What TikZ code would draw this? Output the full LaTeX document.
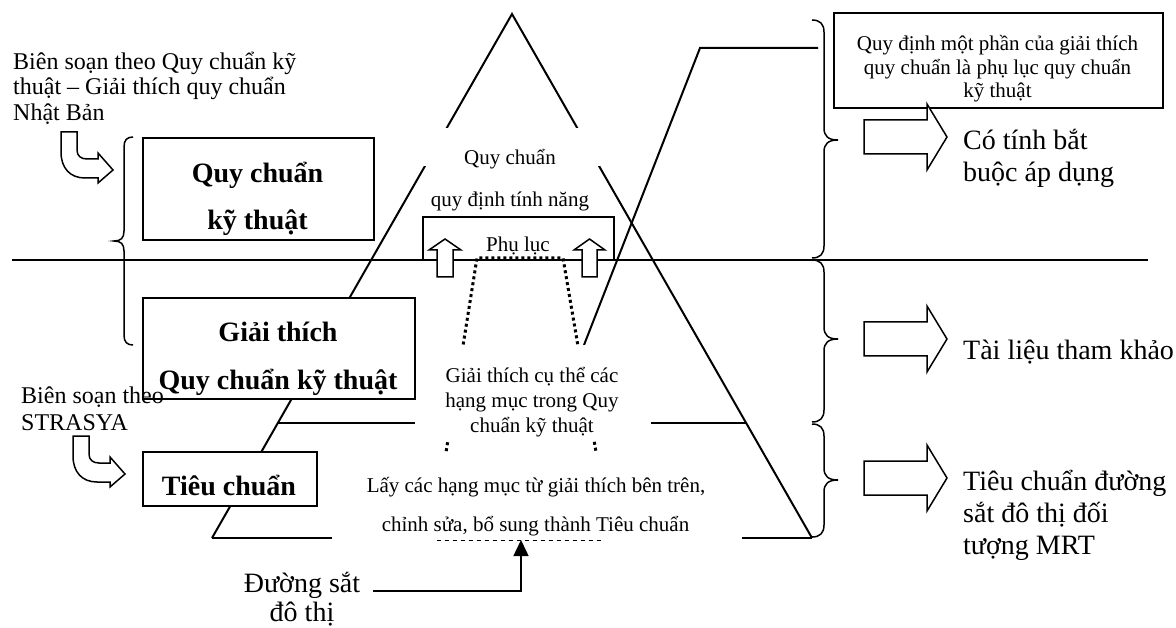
\documentclass[tikz,border=0pt]{standalone}
\usepackage{fontspec}
\setmainfont{Liberation Serif}
\usetikzlibrary{arrows.meta}
% right-pointing curly bracket: #1 top, #2 tip, #3 bottom (y values)
\newcommand{\rightcurl}[3]{%
  \draw[bracepath] (812,#1) .. controls (820,#1) and (824,#1+4) .. (824,#1+12)
    -- (824,#2-12) .. controls (824,#2-4) and (828,#2) .. (838,#2)
    .. controls (828,#2) and (824,#2+4) .. (824,#2+12)
    -- (824,#3-12) .. controls (824,#3-4) and (820,#3) .. (812,#3);}
% outlined block arrow pointing right, centred on y=#1
\newcommand{\rightblock}[1]{%
  \draw[blockarr] (864,#1-17) -- (927,#1-17) -- (927,#1-33) -- (947,#1)
    -- (927,#1+33) -- (927,#1+17) -- (864,#1+17) -- cycle;}
\begin{document}
\begin{tikzpicture}[x=1pt,y=-1pt,
  heavy/.style={line width=2pt},
  medium/.style={line width=1.5pt},
  bracepath/.style={line width=1.5pt},
  ttxt/.style={inner sep=0pt,anchor=base,font=\fontsize{21}{24}\selectfont},
  tlbl/.style={inner sep=0pt,anchor=base west,font=\fontsize{24}{26}\selectfont},
  tbig/.style={inner sep=0pt,anchor=base west,font=\fontsize{28}{32}\selectfont},
  tbigc/.style={inner sep=0pt,anchor=base,font=\fontsize{28}{32}\selectfont},
  tbold/.style={inner sep=0pt,anchor=base,font=\fontsize{28}{32}\selectfont\bfseries},
  framebox/.style={draw,line width=2pt,fill=white,inner sep=0pt,anchor=north west},
  dotline/.style={line width=3pt,dash pattern=on 3pt off 3pt},
  blockarr/.style={draw,line width=1.5pt,fill=white,line join=miter},
]
\useasboundingbox (0,0) rectangle (1176,628);

% --- pyramid and level lines ---
\coordinate (apex) at (512,14);
\coordinate (baseL) at (212,538);
\coordinate (baseR) at (812,538);
\coordinate (midL) at (278,423);
\coordinate (midR) at (746,423);
\coordinate (hL) at (12,260);
\coordinate (hR) at (1148,260);
\draw[heavy] (baseL) -- (apex) -- (baseR);
\draw[heavy] (hL) -- (hR);
\draw[heavy] (midL) -- (midR);
\draw[heavy] (baseL) -- (baseR);

% appendix wedge line
\coordinate (wA) at (818,48);
\coordinate (wB) at (700,48);
\coordinate (wC) at (584,345);
\draw[heavy] (wA) -- (wB) -- (wC);

% dotted trapezoid
\coordinate (dA) at (432,540);
\coordinate (dB) at (477,258);
\coordinate (dC) at (563,258);
\coordinate (dD) at (611,540);
\draw[dotline] (dA) -- (dB) -- (dC) -- (dD);

% white text areas
\fill[white] (420,128) rectangle (600,166);
\fill[white] (415,345) rectangle (651,440);
\fill[white] (332,453) rectangle (742,546);

% dashed base under the standard text
\coordinate (sL) at (437,540);
\coordinate (sR) at (603,540);
\draw[line width=1pt,dash pattern=on 4pt off 4pt] (sL) -- (sR);

% appendix box (open at the bottom)
\coordinate (pa1) at (423,260);
\coordinate (pa2) at (614,217);
\coordinate (pa3) at (614,260);
\draw[heavy] (pa1) |- (pa2) -- (pa3);

% upward block arrows
\draw[blockarr] (437,277) -- (437,250) -- (429,250) -- (445,239) -- (461,250)
  -- (453,250) -- (453,277) -- cycle;
\draw[blockarr] (582,277) -- (582,250) -- (574,250) -- (589.5,239) -- (605,250)
  -- (597,250) -- (597,277) -- cycle;

% --- left boxes ---
\node[framebox,minimum width=231pt,minimum height=102pt] (boxQC) at (142,137) {};
\node[framebox,minimum width=272pt,minimum height=101pt] (boxGT) at (142,297) {};
\node[framebox,minimum width=174pt,minimum height=54pt] (boxTC) at (142,451) {};
\node[tbold] (qc1) at (257.5,183) {Quy chuẩn};
\node[tbold] (qc2) at (257.5,230) {kỹ thuật};
\node[tbold] (gt1) at (278,342) {Giải thích};
\node[tbold] (gt2) at (278,389) {Quy chuẩn kỹ thuật};
\node[tbold] (tc1) at (229,495) {Tiêu chuẩn};

% left bracket
\draw[bracepath] (133,137) .. controls (127,137) and (124,140) .. (124,147)
  -- (124,231) .. controls (124,238) and (121,241) .. (114,241)
  .. controls (121,241) and (124,244) .. (124,251)
  -- (124,335) .. controls (124,342) and (127,345) .. (133,345);

% bent arrows
\draw[blockarr] (61,132) -- (77,132) -- (77,150) .. controls (77,156) and (81,159) .. (87,159)
  -- (98,159) -- (98,153) -- (113,170) -- (98,183) -- (98,178) -- (85,178)
  .. controls (70,178) and (61,168) .. (61,152) -- cycle;
\begin{scope}[shift={(12,304)}]
\draw[blockarr] (61,132) -- (77,132) -- (77,150) .. controls (77,156) and (81,159) .. (87,159)
  -- (98,159) -- (98,153) -- (113,170) -- (98,183) -- (98,178) -- (85,178)
  .. controls (70,178) and (61,168) .. (61,152) -- cycle;
\end{scope}

% left notes
\node[tlbl] (bs1) at (13,69.5) {Biên soạn theo Quy chuẩn kỹ};
\node[tlbl] (bs2) at (13,95) {thuật – Giải thích quy chuẩn};
\node[tlbl] (bs3) at (13,120.5) {Nhật Bản};
\node[tlbl] (st1) at (21,403) {Biên soạn theo};
\node[tlbl] (st2) at (21,430) {STRASYA};

% pyramid texts
\node[ttxt] (in1) at (510,165) {Quy chuẩn};
\node[ttxt] (in2) at (510,207) {quy định tính năng};
\node[ttxt] (in3) at (518,252) {Phụ lục};
\node[ttxt] (gc1) at (532,383) {Giải thích cụ thể các};
\node[ttxt] (gc2) at (532,407) {hạng mục trong Quy};
\node[ttxt] (gc3) at (532,432) {chuẩn kỹ thuật};
\node[ttxt] (ly1) at (536,492) {Lấy các hạng mục từ giải thích bên trên,};
\node[ttxt] (ly2) at (535.5,531) {chỉnh sửa, bổ sung thành Tiêu chuẩn};

% appendix note box
\node[framebox,fill=none,minimum width=329pt,minimum height=95pt] (boxPL) at (833,12) {};
\node[ttxt] (pl1) at (997.5,51) {Quy định một phần của giải thích};
\node[ttxt] (pl2) at (997.5,75) {quy chuẩn là phụ lục quy chuẩn};
\node[ttxt] (pl3) at (997.5,98) {kỹ thuật};

% right brackets, arrows and notes
\rightcurl{20}{140}{258}
\rightcurl{260}{339}{422}
\rightcurl{424}{480}{537}
\rightblock{137}
\rightblock{339}
\rightblock{478}
\node[tbig] (r11) at (963,150) {Có tính bắt};
\node[tbig] (r12) at (963,182) {buộc áp dụng};
\node[tbig] (r21) at (963,360) {Tài liệu tham khảo};
\node[tbig] (r31) at (963,490) {Tiêu chuẩn đường};
\node[tbig] (r32) at (963,522) {sắt đô thị đối};
\node[tbig] (r33) at (963,554) {tượng MRT};

% urban railway pointer
\node[tbigc] (ds1) at (302,592) {Đường sắt};
\node[tbigc] (ds2) at (302,621) {đô thị};
\coordinate (dsStart) at (373,591);
\coordinate (dsTip) at (521,540);
\draw[medium,-{Triangle[length=16pt,width=15pt]}] (dsStart) -| (dsTip);

\end{tikzpicture}
\end{document}
